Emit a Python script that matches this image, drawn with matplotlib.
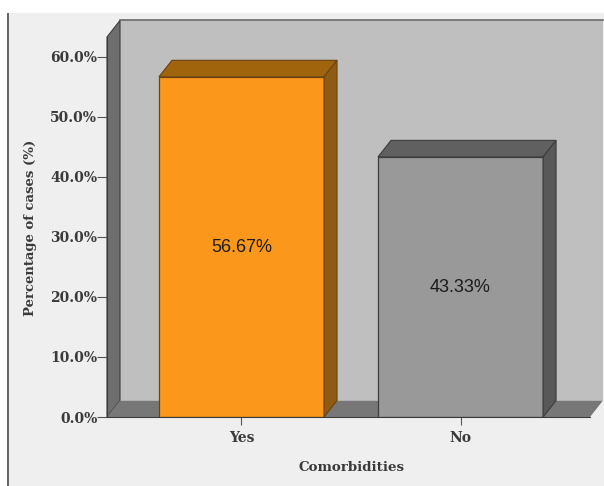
import matplotlib
matplotlib.use('Agg')
import matplotlib.pyplot as plt
from matplotlib.patches import Polygon, Rectangle

# chart data
categories = ['Yes', 'No']
percentages = [56.67, 43.33]
bar_labels = ['56.67%', '43.33%']
y_ticks = [0, 10, 20, 30, 40, 50, 60]
y_tick_labels = ['0.0%', '10.0%', '20.0%', '30.0%', '40.0%', '50.0%', '60.0%']

W, H = 604, 486
DARK = '#3c3c3c'
fig = plt.figure(figsize=(W / 100, H / 100), dpi=100, facecolor='white')

# grey panel with a dark rule down its left side, kept behind the axes
fig.add_artist(Rectangle((9 / W, 0), (W - 9) / W, 1 - 13 / H, transform=fig.transFigure,
                         facecolor='#efefef', edgecolor='none', zorder=-2))
fig.add_artist(Rectangle((7.5 / W, 0), 1.5 / W, 1 - 13 / H, transform=fig.transFigure,
                         facecolor='#666666', edgecolor='none', zorder=-1))

ax = fig.add_axes([107 / W, (H - 417) / H, (590 - 107) / W, (417 - 37) / H])
ax.patch.set_visible(False)

# one category step is 219 px, one percent is 6 px
ax.set_xlim(-0.614, 1.591)
ax.set_ylim(0, 63.3)
dx, dy = 13 / 219, 16.5 / 6
x0, x1 = ax.get_xlim()
y1 = ax.get_ylim()[1]
width = 165 / 219


def poly(points, color, edge=DARK, lw=0.8, z=1):
    ax.add_patch(Polygon(points, closed=True, facecolor=color, edgecolor=edge,
                         linewidth=lw, clip_on=False, zorder=z))


# back wall, left wall and floor of the box
poly([(x0 + dx, dy), (x1 + dx, dy), (x1 + dx, y1 + dy), (x0 + dx, y1 + dy)], '#bfbfbf', edge='none')
ax.plot([x0 + dx, x1 + dx], [y1 + dy, y1 + dy], color='#6a6a6a', lw=1.2, clip_on=False, zorder=1)
poly([(x0, 0), (x0 + dx, dy), (x0 + dx, y1 + dy), (x0, y1)], '#6e6e6e')
poly([(x0, 0), (x0 + dx, dy), (x1 + dx, dy), (x1, 0)], '#777777', edge='none')

# bars with their top and side faces
faces = ['#fb981b', '#999999']
tops = ['#a0640c', '#606060']
sides = ['#8f5a14', '#585858']
edges = ['#6b4310', DARK]
xs = range(len(categories))
ax.bar(xs, percentages, width=width, color=faces, edgecolor=edges, linewidth=0.9, zorder=3)
for i, val in zip(xs, percentages):
    l, r = i - width / 2, i + width / 2
    poly([(l, val), (l + dx, val + dy), (r + dx, val + dy), (r, val)], tops[i], edge=edges[i], z=3)
    poly([(r, 0), (r + dx, dy), (r + dx, val + dy), (r, val)], sides[i], edge=edges[i], z=3)
    ax.text(i, val / 2 - 0.1, bar_labels[i], ha='center', va='center', zorder=4,
            family='Liberation Sans', fontsize=13, color='#1c1c1c')

for side in ['top', 'right']:
    ax.spines[side].set_visible(False)
ax.spines['left'].set_color(DARK)
ax.spines['bottom'].set_color(DARK)
ax.spines['bottom'].set_zorder(5)

tick_font = dict(family='DejaVu Serif', fontweight='bold', color='#3a3a3a')
ax.set_yticks(y_ticks)
ax.set_yticklabels(y_tick_labels, fontsize=10, **tick_font)
ax.set_xticks(list(xs))
ax.set_xticklabels(categories, fontsize=10, **tick_font)
ax.tick_params(axis='y', length=7, width=0.8, color='#555555', pad=0)
ax.tick_params(axis='x', length=6, width=0.8, color='#555555', pad=4)

ax.set_xlabel('Comorbidities', fontsize=9.6, va='center', **tick_font)
ax.xaxis.set_label_coords(0.506, -0.132)
ax.set_ylabel('Percentage of cases (%)', fontsize=9.5, va='center', **tick_font)
ax.yaxis.set_label_coords(-0.159, 0.497)

fig.savefig('out.png', dpi=100, facecolor=fig.get_facecolor())
